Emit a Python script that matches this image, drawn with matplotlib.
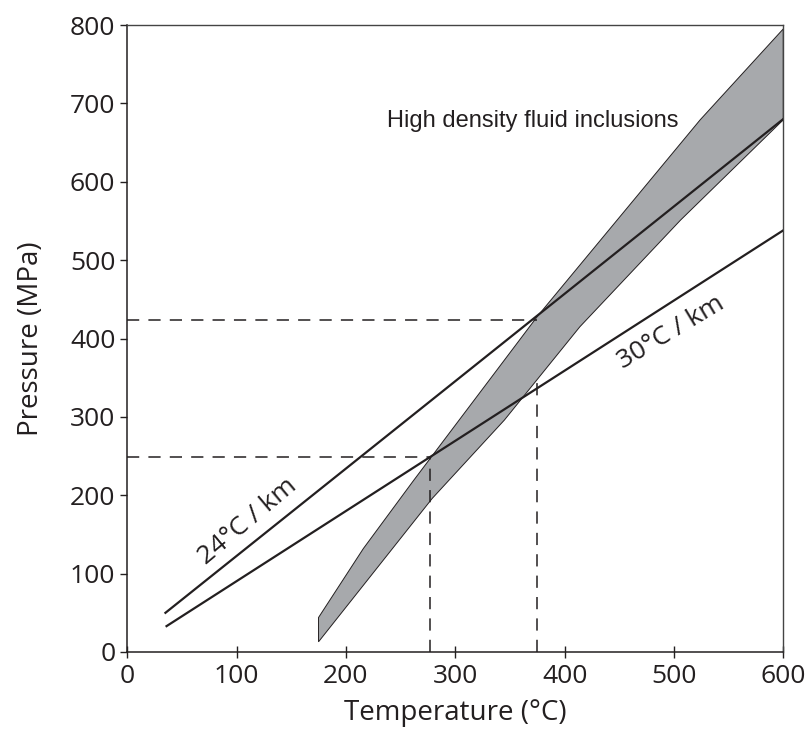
import matplotlib.pyplot as plt

# geotherm lines (T in degC, P in MPa)
geo24_T = [35, 600]
geo24_P = [50, 680]
geo30_T = [36, 600]
geo30_P = [33, 538]

# high density fluid inclusion band (isochores)
band_upper_T = [175, 216, 262, 375, 448, 524, 600]
band_upper_P = [44, 132, 219, 428, 551, 679, 795]
band_lower_T = [175, 279, 345, 414, 506, 600]
band_lower_P = [13, 196, 296, 415, 551, 679]

# intersections marked with dashed guides
cross_T = [277, 375]
cross_P = [249, 423]
vline_top = [249, 351]

plt.rcParams['font.family'] = ['Open Sans', 'DejaVu Sans']

fig = plt.figure(figsize=(8.1, 7.42), dpi=100)
ax = fig.add_axes([0.157, 0.1213, 0.81, 0.845])

poly_T = band_upper_T + band_lower_T[::-1]
poly_P = band_upper_P + band_lower_P[::-1]
ax.fill(poly_T, poly_P, facecolor='#a7a9ac', edgecolor='#231f20', lw=0.7, zorder=2)

ax.plot(geo24_T, geo24_P, color='#231f20', lw=1.6, zorder=3)
ax.plot(geo30_T, geo30_P, color='#231f20', lw=1.6, zorder=3)

for t, p, top in zip(cross_T, cross_P, vline_top):
    ax.plot([0, t], [p, p], color='#231f20', lw=1.1, dashes=(8, 6), zorder=4)
    ax.plot([t, t], [0, top], color='#231f20', lw=1.1, dashes=(8, 6), zorder=4)

ax.text(238, 678, 'High density fluid inclusions', fontsize=17,
        family=['Liberation Sans', 'DejaVu Sans'], color='#231f20', va='center', ha='left')
ax.text(110, 167, '24°C / km', fontsize=19, rotation=40, color='#231f20',
        ha='center', va='center', rotation_mode='anchor')
ax.text(497, 408, '30°C / km', fontsize=19, rotation=31, color='#231f20',
        ha='center', va='center', rotation_mode='anchor')

ax.set_xlim(0, 600)
ax.set_ylim(0, 800)
ax.set_xticks(range(0, 601, 100))
ax.set_yticks(range(0, 801, 100))
ax.tick_params(axis='x', direction='inout', length=8, width=1, labelsize=19, colors='#231f20', pad=5)
ax.tick_params(axis='y', direction='out', length=5, width=1, labelsize=19, colors='#231f20')
ax.set_xlabel('Temperature (°C)', fontsize=20, color='#231f20', labelpad=7)
ax.set_ylabel('Pressure (MPa)', fontsize=20, color='#231f20', labelpad=18)
for side in ['left', 'bottom']:
    ax.spines[side].set_color('#231f20')
    ax.spines[side].set_linewidth(1.1)
for side in ['top', 'right']:
    ax.spines[side].set_color('#444444')
    ax.spines[side].set_linewidth(1.0)

fig.savefig('out.png', dpi=100)
